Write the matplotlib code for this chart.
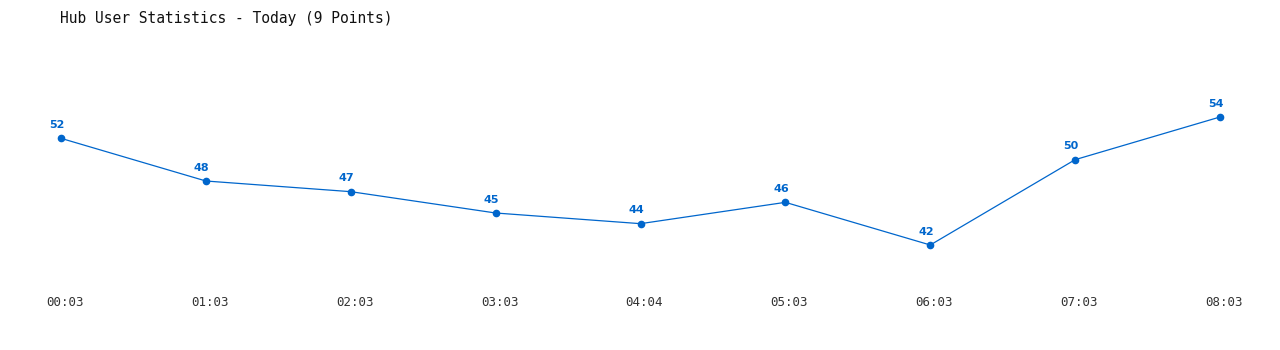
import matplotlib

matplotlib.use('Agg')
import matplotlib.pyplot as plt
import matplotlib.transforms as mtransforms

times = ['00:03', '01:03', '02:03', '03:03', '04:04', '05:03', '06:03', '07:03', '08:03']
users = [52, 48, 47, 45, 44, 46, 42, 50, 54]
title = 'Hub User Statistics - Today (9 Points)'

BLUE = '#0066cc'

fig = plt.figure(figsize=(12.8, 3.5), dpi=100)
# axes spans exactly first..last point horizontally, min..max value vertically
ax = fig.add_axes([61 / 1280, 105 / 350, (1220 - 61) / 1280, 128 / 350])
x = list(range(len(users)))
ax.plot(x, users, color=BLUE, lw=0.9, marker='o', ms=4.5, clip_on=False)
for xi, v in zip(x, users):
    ax.annotate(str(v), (xi, v), xytext=(-3, 6), textcoords='offset points',
                ha='center', va='bottom', fontsize=8, fontweight='bold',
                color=BLUE, family='DejaVu Sans')

ax.set_xlim(0, len(users) - 1)
ax.set_ylim(min(users), max(users))
ax.set_yticks([])
ax.set_xticks(x)
ax.set_xticklabels(times, family='DejaVu Sans Mono', fontsize=9, color='#333333')
ax.tick_params(axis='x', length=0, pad=37)
# labels sit a few pixels right of their points in the original
shift = mtransforms.ScaledTranslation(4 / 100, 0, fig.dpi_scale_trans)
for lbl in ax.get_xticklabels():
    lbl.set_transform(lbl.get_transform() + shift)
for s in ax.spines.values():
    s.set_visible(False)

fig.text(60 / 1280, 1 - 18 / 350, title, ha='left', va='center',
         family='DejaVu Sans Mono', fontsize=10.5, color='#111111')

fig.savefig('out.png', dpi=100, facecolor='white')
